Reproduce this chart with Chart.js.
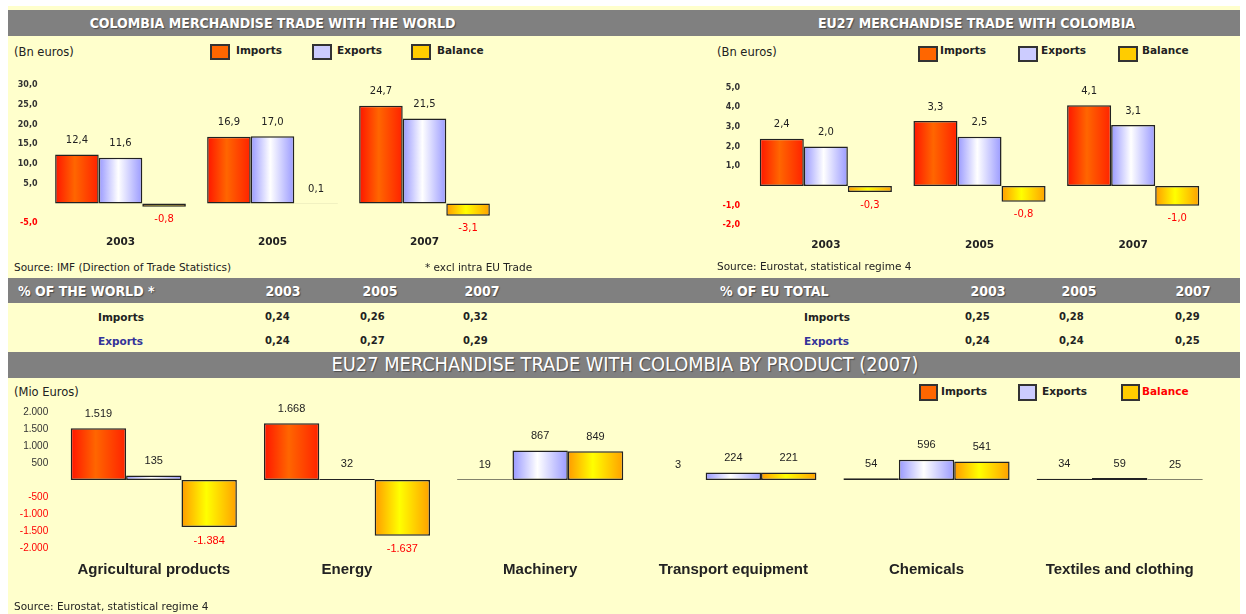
<!DOCTYPE html>
<html>
<head>
<meta charset="utf-8">
<script src="https://cdn.jsdelivr.net/npm/chart.js@4.4.0/dist/chart.umd.min.js"></script>
<style>
body{margin:0;width:1246px;height:614px;overflow:hidden;position:relative;background:#fff;font-family:"DejaVu Sans",sans-serif;color:#222}
#panel{position:absolute;left:8px;top:6px;width:1232px;height:608px;background:#ffffcc}
.band{position:absolute;left:8px;width:1232px;background:#808080}
.head{position:absolute;color:#fff;font-family:"DejaVu Sans Condensed","DejaVu Sans",sans-serif;font-stretch:condensed;font-weight:bold;font-size:14px;white-space:nowrap;text-shadow:1px 1px 1px #4a4a4a;height:20px;line-height:20px}
.t{position:absolute;white-space:nowrap;height:14px;line-height:14px;font-size:10px}
.u{font-size:11.5px}
.b{font-weight:bold}
.lg{position:absolute;width:20px;height:16px;box-sizing:border-box;border:2px solid #333}
.src{font-size:10.5px}
canvas{position:absolute}
</style>
</head>
<body>
<div id="panel"></div>

<!-- top title band -->
<div class="band" style="top:10px;height:26px"></div>
<div class="head" style="left:0;width:545px;text-align:center;top:13px">COLOMBIA MERCHANDISE TRADE WITH THE WORLD</div>
<div class="head" style="left:700px;width:553px;text-align:center;top:13px">EU27 MERCHANDISE TRADE WITH COLOMBIA</div>

<!-- top left legend -->
<div class="t u" style="left:14px;top:45px">(Bn euros)</div>
<div class="lg" style="left:210px;top:44px;background:#ff6600"></div>
<div class="t b" style="left:236px;top:43px;font-size:10.5px">Imports</div>
<div class="lg" style="left:312px;top:44px;background:#ccccff"></div>
<div class="t b" style="left:337px;top:43px;font-size:10.5px">Exports</div>
<div class="lg" style="left:411px;top:44px;background:#ffcc00"></div>
<div class="t b" style="left:437px;top:43px;font-size:10.5px">Balance</div>

<!-- top right legend -->
<div class="t u" style="left:717px;top:45px">(Bn euros)</div>
<div class="lg" style="left:918px;top:46px;background:#ff6600"></div>
<div class="t b" style="left:940px;top:43px;font-size:10.5px">Imports</div>
<div class="lg" style="left:1018px;top:46px;background:#ccccff"></div>
<div class="t b" style="left:1041px;top:43px;font-size:10.5px">Exports</div>
<div class="lg" style="left:1118px;top:46px;background:#ffcc00"></div>
<div class="t b" style="left:1142px;top:43px;font-size:10.5px">Balance</div>

<canvas id="worldChart" width="505" height="200" style="left:8px;top:60px"></canvas>
<canvas id="euChart" width="530" height="200" style="left:700px;top:60px"></canvas>

<div class="t src" style="left:14px;top:260px">Source: IMF (Direction of Trade Statistics)</div>
<div class="t src" style="left:425px;top:260px">* excl intra EU Trade</div>
<div class="t src" style="left:717px;top:259px">Source: Eurostat, statistical regime 4</div>

<!-- share tables -->
<div class="band" style="top:278px;height:25px"></div>
<div class="head" style="left:18px;top:281px">% OF THE WORLD *</div>
<div class="head" style="left:720px;top:281px">% OF EU TOTAL</div>
<div class="head" id="wy0" style="left:258px;width:50px;text-align:center;top:281px"></div>
<div class="head" id="wy1" style="left:355px;width:50px;text-align:center;top:281px"></div>
<div class="head" id="wy2" style="left:457px;width:50px;text-align:center;top:281px"></div>
<div class="head" id="ey0" style="left:963px;width:50px;text-align:center;top:281px"></div>
<div class="head" id="ey1" style="left:1054px;width:50px;text-align:center;top:281px"></div>
<div class="head" id="ey2" style="left:1168px;width:50px;text-align:center;top:281px"></div>

<div class="t b" style="left:98px;top:310px;font-size:10.5px">Imports</div>
<div class="t b" style="left:98px;top:334px;font-size:10.5px;color:#333399">Exports</div>
<div class="t b" id="wi0" style="left:265px;top:310px"></div>
<div class="t b" id="wi1" style="left:360px;top:310px"></div>
<div class="t b" id="wi2" style="left:463px;top:310px"></div>
<div class="t b" id="we0" style="left:265px;top:334px"></div>
<div class="t b" id="we1" style="left:360px;top:334px"></div>
<div class="t b" id="we2" style="left:463px;top:334px"></div>

<div class="t b" style="left:804px;top:310px;font-size:10.5px">Imports</div>
<div class="t b" style="left:804px;top:334px;font-size:10.5px;color:#333399">Exports</div>
<div class="t b" id="ei0" style="left:965px;top:310px"></div>
<div class="t b" id="ei1" style="left:1059px;top:310px"></div>
<div class="t b" id="ei2" style="left:1175px;top:310px"></div>
<div class="t b" id="ee0" style="left:965px;top:334px"></div>
<div class="t b" id="ee1" style="left:1059px;top:334px"></div>
<div class="t b" id="ee2" style="left:1175px;top:334px"></div>

<!-- bottom band -->
<div class="band" style="top:352px;height:26px"></div>
<div class="head" style="left:0;width:1250px;text-align:center;top:355px;font-weight:normal;font-size:19.8px">EU27 MERCHANDISE TRADE WITH COLOMBIA BY PRODUCT (2007)</div>

<div class="t u" style="left:14px;top:385px">(Mio Euros)</div>
<div class="lg" style="left:919px;top:384px;width:19px;height:17px;background:#ff6600"></div>
<div class="t b" style="left:941px;top:384px;font-size:10.5px">Imports</div>
<div class="lg" style="left:1018px;top:384px;width:19px;height:17px;background:#ccccff"></div>
<div class="t b" style="left:1042px;top:384px;font-size:10.5px">Exports</div>
<div class="lg" style="left:1121px;top:384px;width:19px;height:17px;background:#ffcc00"></div>
<div class="t b" style="left:1142px;top:384px;font-size:10.5px;color:#ff0000">Balance</div>

<canvas id="productChart" width="1230" height="205" style="left:8px;top:395px"></canvas>

<div class="t src" style="left:14px;top:599px">Source: Eurostat, statistical regime 4</div>

<script>
// values
const years = ["2003", "2005", "2007"];
const worldImports = [12.4, 16.9, 24.7];
const worldExports = [11.6, 17.0, 21.5];
const worldBalance = [-0.8, 0.1, -3.1];

const euImports = [2.4, 3.3, 4.1];
const euExports = [2.0, 2.5, 3.1];
const euBalance = [-0.3, -0.8, -1.0];

const worldShareImports = [0.24, 0.26, 0.32];
const worldShareExports = [0.24, 0.27, 0.29];
const euShareImports = [0.25, 0.28, 0.29];
const euShareExports = [0.24, 0.24, 0.25];

const products = ["Agricultural products", "Energy", "Machinery", "Transport equipment", "Chemicals", "Textiles and clothing"];
const prodImports = [1519, 1668, 19, 3, 54, 34];
const prodExports = [135, 32, 867, 224, 596, 59];
const prodBalance = [-1384, -1637, 849, 221, 541, 25];

// tables
function comma2(v) { return v.toFixed(2).replace(".", ","); }
years.forEach(function (y, i) {
  document.getElementById("wy" + i).textContent = y;
  document.getElementById("ey" + i).textContent = y;
  document.getElementById("wi" + i).textContent = comma2(worldShareImports[i]);
  document.getElementById("we" + i).textContent = comma2(worldShareExports[i]);
  document.getElementById("ei" + i).textContent = comma2(euShareImports[i]);
  document.getElementById("ee" + i).textContent = comma2(euShareExports[i]);
});

// bar fill: horizontal gradient across each bar
function shade(edge, mid, edge2) {
  return function (c) {
    const el = c.element;
    if (c.type !== "data" || !el || !isFinite(el.x) || !el.width) return mid;
    const g = c.chart.ctx.createLinearGradient(el.x - el.width / 2, 0, el.x + el.width / 2, 0);
    g.addColorStop(0, edge);
    g.addColorStop(0.45, mid);
    g.addColorStop(1, edge2);
    return g;
  };
}
const impFill = shade("#ff1500", "#ff6600", "#ff2200");
const expFill = shade("#9898ff", "#ffffff", "#9a9aff");
const balFill = shade("#ff9a00", "#ffff00", "#ffa000");

function oneDec(v) { return v.toFixed(1).replace(".", ","); }
function thousands(v) {
  const a = Math.abs(Math.round(v));
  const s = a >= 1000 ? Math.floor(a / 1000) + "." + String(a % 1000).padStart(3, "0") : String(a);
  return (v < 0 ? "-" : "") + s;
}

function valueLabels(fmt, font, above, below) {
  return {
    id: "valueLabels",
    afterDatasetsDraw(chart) {
      const ctx = chart.ctx;
      ctx.save();
      ctx.font = font;
      ctx.textAlign = "center";
      ctx.textBaseline = "middle";
      chart.data.datasets.forEach(function (ds, i) {
        chart.getDatasetMeta(i).data.forEach(function (bar, j) {
          const v = ds.data[j];
          ctx.fillStyle = v < 0 ? "#ff0000" : "#222";
          ctx.fillText(fmt(v), bar.x, v < 0 ? bar.y + below : bar.y - above);
        });
      });
      ctx.restore();
    }
  };
}

function sets(a, b, c) {
  const base = { borderColor: "#222", borderWidth: 1.5, borderSkipped: false, categoryPercentage: 0.86, barPercentage: 1 };
  return [
    Object.assign({ label: "Imports", data: a, backgroundColor: impFill }, base),
    Object.assign({ label: "Exports", data: b, backgroundColor: expFill }, base),
    Object.assign({ label: "Balance", data: c, backgroundColor: balFill }, base)
  ];
}

function makeChart(id, labels, a, b, c, cfg) {
  const chart = new Chart(document.getElementById(id), {
    type: "bar",
    data: { labels: labels, datasets: sets(a, b, c) },
    plugins: [valueLabels(cfg.fmt, cfg.valueFont, cfg.above, cfg.below)],
    options: {
      responsive: false,
      animation: false,
      layout: { padding: { top: cfg.padTop, right: cfg.padRight, left: 0, bottom: 0 } },
      plugins: { legend: { display: false }, tooltip: { enabled: false } },
      scales: {
        x: {
          afterFit: function (s) { s.height = cfg.xHeight; },
          grid: { display: false, drawTicks: false },
          border: { display: false },
          ticks: { padding: cfg.xPad, color: "#222", font: cfg.xFont }
        },
        y: {
          min: cfg.min, max: cfg.max,
          afterFit: function (s) { s.width = cfg.yWidth; },
          grid: { display: false, drawTicks: false },
          border: { display: false },
          ticks: {
            stepSize: cfg.step,
            padding: cfg.yPad,
            font: cfg.yFont,
            color: function (t) { return t.tick.value < 0 ? "#ff0000" : "#333"; },
            callback: function (v) { return v === 0 ? "" : cfg.tickFmt(v); }
          }
        }
      }
    }
  });
  chart.update();
  return chart;
}

makeChart("worldChart", years, worldImports, worldExports, worldBalance, {
  fmt: oneDec, tickFmt: oneDec, valueFont: "10px 'DejaVu Sans'", above: 14, below: 13,
  padTop: 24.9, padRight: 12.5, xHeight: 36.7, xPad: 12.4, yWidth: 36.5, yPad: 7,
  min: -5, max: 30, step: 5,
  xFont: { family: "DejaVu Sans", size: 10.5, weight: "bold" },
  yFont: { family: "DejaVu Sans", size: 8, weight: "bold" }
});

makeChart("euChart", years, euImports, euExports, euBalance, {
  fmt: oneDec, tickFmt: oneDec, valueFont: "10px 'DejaVu Sans'", above: 14, below: 13,
  padTop: 27.5, padRight: 20, xHeight: 34.6, xPad: 13.3, yWidth: 49, yPad: 9,
  min: -2, max: 5, step: 1,
  xFont: { family: "DejaVu Sans", size: 10.5, weight: "bold" },
  yFont: { family: "DejaVu Sans", size: 8, weight: "bold" }
});

makeChart("productChart", products, prodImports, prodExports, prodBalance, {
  fmt: thousands, tickFmt: thousands, valueFont: "11px 'Liberation Sans'", above: 14.5, below: 13.5,
  padTop: 17, padRight: 21.7, xHeight: 52, xPad: 13, yWidth: 49.2, yPad: 9,
  min: -2000, max: 2000, step: 500,
  xFont: { family: "Liberation Sans", size: 15, weight: "bold" },
  yFont: { family: "'Liberation Sans Narrow', 'Liberation Sans'", size: 10 }
});
</script>
</body>
</html>
